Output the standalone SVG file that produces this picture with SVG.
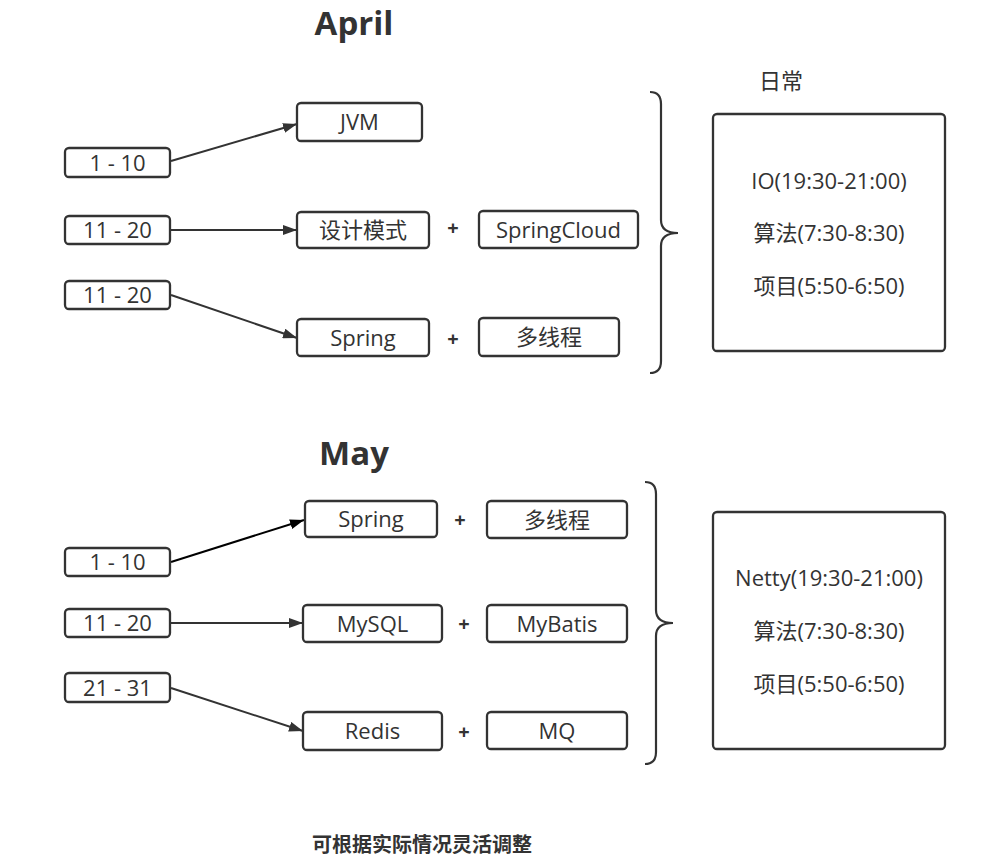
<svg xmlns="http://www.w3.org/2000/svg" width="987" height="867" viewBox="0 0 987 867">
<defs>
<style>
.box{fill:#fff;stroke:#333;stroke-width:2.3}
.t{font-family:"Open Sans","Noto Sans CJK SC",sans-serif;font-size:22px;fill:#333;text-anchor:middle}
.title{font-family:"Open Sans","Noto Sans CJK SC",sans-serif;font-size:33px;font-weight:bold;fill:#333;text-anchor:middle}
.plus{font-family:"Open Sans",sans-serif;font-size:20px;font-weight:bold;fill:#333;text-anchor:middle}
.note{font-family:"Noto Sans CJK SC",sans-serif;font-size:20px;font-weight:bold;fill:#333;text-anchor:middle}
.edge{fill:none;stroke:#333;stroke-width:2}
.brace{fill:none;stroke:#333;stroke-width:2.2}
</style>
<marker id="arr" viewBox="0 0 14 10" refX="14" refY="5" markerWidth="14" markerHeight="10" markerUnits="userSpaceOnUse" orient="auto">
<path d="M0,0 L14,5 L0,10 Z" fill="#333"/>
</marker>
<marker id="arrk" viewBox="0 0 14 10" refX="14" refY="5" markerWidth="14" markerHeight="10" markerUnits="userSpaceOnUse" orient="auto">
<path d="M0,0 L14,5 L0,10 Z" fill="#000"/>
</marker>
</defs>
<rect width="987" height="867" fill="#fff"/>

<text class="title" x="354" y="35">April</text>
<text class="title" x="354" y="465">May</text>

<g id="connectors">
<line class="edge" x1="171" y1="161" x2="297" y2="124" marker-end="url(#arr)"/>
<line class="edge" x1="171" y1="230" x2="297" y2="230" marker-end="url(#arr)"/>
<line class="edge" x1="171" y1="295" x2="297" y2="338" marker-end="url(#arr)"/>
<line class="edge" x1="171" y1="562" x2="304" y2="520" style="stroke:#000" marker-end="url(#arrk)"/>
<line class="edge" x1="171" y1="623" x2="303" y2="623" marker-end="url(#arr)"/>
<line class="edge" x1="171" y1="688" x2="303" y2="731" marker-end="url(#arr)"/>
</g>

<g id="a-1-10"><rect class="box" x="65" y="148" width="105" height="29" rx="4"/><text class="t" x="117.5" y="170.5">1 - 10</text></g>
<g id="a-11-20a"><rect class="box" x="65" y="216" width="105" height="28" rx="4"/><text class="t" x="117.5" y="238">11 - 20</text></g>
<g id="a-11-20b"><rect class="box" x="65" y="281" width="105" height="28" rx="4"/><text class="t" x="117.5" y="303">11 - 20</text></g>

<g id="a-jvm"><rect class="box" x="297" y="103" width="125" height="38" rx="4"/><text class="t" x="359.5" y="130">JVM</text></g>
<g id="a-design"><rect class="box" x="297" y="212" width="132" height="36" rx="4"/><text class="t" x="363" y="238">设计模式</text></g>
<g id="a-spring"><rect class="box" x="297" y="319" width="132" height="37" rx="4"/><text class="t" x="363" y="345.5">Spring</text></g>
<g id="a-springcloud"><rect class="box" x="479" y="211" width="159" height="37" rx="4"/><text class="t" x="558.5" y="237.5">SpringCloud</text></g>
<g id="a-thread"><rect class="box" x="479" y="318" width="140" height="38" rx="4"/><text class="t" x="549" y="345">多线程</text></g>
<text class="plus" x="453" y="235">+</text>
<text class="plus" x="453" y="346">+</text>

<g id="a-brace"><path class="brace" d="M650,92 Q661,92 661,104 L661,220 Q661,233 678,233 Q661,233 661,246 L661,361 Q661,373 650,373"/></g>
<text class="t" x="781" y="89">日常</text>
<g id="a-daily"><rect class="box" x="713" y="114" width="232" height="237" rx="4"/>
<text class="t" x="829" y="188.5">IO(19:30-21:00)</text>
<text class="t" x="829" y="240.5">算法(7:30-8:30)</text>
<text class="t" x="829" y="293.5">项目(5:50-6:50)</text></g>

<g id="m-1-10"><rect class="box" x="65" y="548" width="105" height="28" rx="4"/><text class="t" x="117.5" y="570">1 - 10</text></g>
<g id="m-11-20"><rect class="box" x="65" y="609" width="105" height="28" rx="4"/><text class="t" x="117.5" y="631">11 - 20</text></g>
<g id="m-21-31"><rect class="box" x="65" y="673" width="105" height="29" rx="4"/><text class="t" x="117.5" y="695.5">21 - 31</text></g>

<g id="m-spring"><rect class="box" x="305" y="501" width="132" height="36" rx="4"/><text class="t" x="371" y="527">Spring</text></g>
<g id="m-mysql"><rect class="box" x="303" y="605" width="139" height="37" rx="4"/><text class="t" x="372.5" y="631.5">MySQL</text></g>
<g id="m-redis"><rect class="box" x="303" y="712" width="139" height="38" rx="4"/><text class="t" x="372.5" y="739">Redis</text></g>
<g id="m-thread"><rect class="box" x="487" y="501" width="140" height="37" rx="4"/><text class="t" x="557" y="527.5">多线程</text></g>
<g id="m-mybatis"><rect class="box" x="487" y="605" width="140" height="37" rx="4"/><text class="t" x="557" y="631.5">MyBatis</text></g>
<g id="m-mq"><rect class="box" x="487" y="712" width="140" height="37" rx="4"/><text class="t" x="557" y="738.5">MQ</text></g>
<text class="plus" x="460" y="527">+</text>
<text class="plus" x="464" y="631">+</text>
<text class="plus" x="464" y="739">+</text>

<g id="m-brace"><path class="brace" d="M645,482 Q656,482 656,494 L656,610 Q656,623 673,623 Q656,623 656,636 L656,752 Q656,764 645,764"/></g>
<g id="m-daily"><rect class="box" x="713" y="512" width="232" height="237" rx="4"/>
<text class="t" x="829" y="585.5">Netty(19:30-21:00)</text>
<text class="t" x="829" y="638.5">算法(7:30-8:30)</text>
<text class="t" x="829" y="691.5">项目(5:50-6:50)</text></g>

<text class="note" x="422" y="852">可根据实际情况灵活调整</text>
</svg>
